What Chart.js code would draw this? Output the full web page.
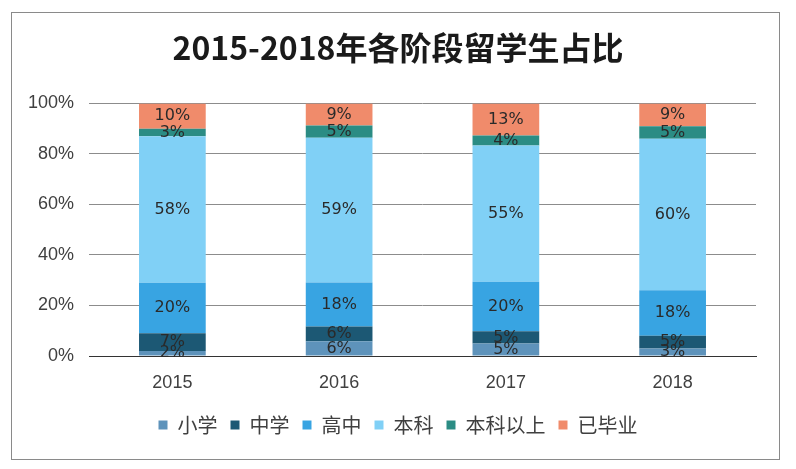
<!DOCTYPE html>
<html>
<head>
<meta charset="utf-8">
<script src="https://cdn.jsdelivr.net/npm/chart.js@4.4.0/dist/chart.umd.min.js"></script>
<style>
  html, body { margin: 0; padding: 0; background: #ffffff; }
  #wrap { width: 796px; height: 469px; position: relative; }
</style>
</head>
<body>
<div id="wrap"><canvas id="grafico" width="796" height="469"></canvas></div>
<script>
const anios = ["2015", "2016", "2017", "2018"];
const xiaoxue = [2, 6, 5, 3];
const zhongxue = [7, 6, 5, 5];
const gaozhong = [20, 18, 20, 18];
const benke = [58, 59, 55, 60];
const benkeYishang = [3, 5, 4, 5];
const yibiye = [10, 9, 13, 9];
const ticksY = ["0%", "20%", "40%", "60%", "80%", "100%"];

const series = [
  { label: "小学", values: xiaoxue, color: "#5e93bb" },
  { label: "中学", values: zhongxue, color: "#1c5874" },
  { label: "高中", values: gaozhong, color: "#38a4e2" },
  { label: "本科", values: benke, color: "#80d0f6" },
  { label: "本科以上", values: benkeYishang, color: "#2b8c84" },
  { label: "已毕业", values: yibiye, color: "#f08b6b" }
];

// 100% apilado: normalizar cada año
const totales = anios.map((_, i) => series.reduce((s, d) => s + d.values[i], 0));

const datasets = series.map(d => ({
  label: d.label,
  data: d.values.map((v, i) => v / totales[i] * 100),
  raw: d.values,
  backgroundColor: d.color,
  borderWidth: 0,
  categoryPercentage: 1,
  barPercentage: 0.4
}));

const etiquetas = {
  id: "etiquetas",
  afterDatasetsDraw(chart) {
    const ctx = chart.ctx;
    ctx.save();
    ctx.font = "16px 'DejaVu Sans', sans-serif";
    ctx.fillStyle = "#2a2a2a";
    ctx.textAlign = "center";
    ctx.textBaseline = "middle";
    chart.data.datasets.forEach((ds, di) => {
      chart.getDatasetMeta(di).data.forEach((bar, i) => {
        const y = (bar.y + bar.base) / 2;
        ctx.fillText(ds.raw[i] + "%", bar.x, y);
      });
    });
    ctx.restore();
  }
};

const marco = {
  id: "marco",
  beforeDraw(chart) {
    const ctx = chart.ctx;
    ctx.save();
    ctx.fillStyle = "#ffffff";
    ctx.fillRect(0, 0, chart.width, chart.height);
    ctx.strokeStyle = "#8a8a8a";
    ctx.lineWidth = 1;
    ctx.strokeRect(11.5, 12.5, 768, 447);
    ctx.restore();
  }
};

new Chart(document.getElementById("grafico"), {
  type: "bar",
  data: { labels: anios, datasets: datasets },
  plugins: [marco, etiquetas],
  options: {
    responsive: false,
    animation: false,
    layout: { padding: { left: 0, right: 0, top: 0, bottom: 24 } },
    plugins: {
      title: {
        display: true,
        text: "2015-2018年各阶段留学生占比",
        color: "#1a1a1a",
        font: { size: 32, weight: "bold", family: "'Noto Sans CJK SC', sans-serif" },
        padding: { top: 29, bottom: 36 }
      },
      legend: {
        position: "bottom",
        labels: {
          boxWidth: 9,
          boxHeight: 9,
          color: "#404040",
          padding: 13,
          font: { size: 20, family: "'Noto Sans CJK SC', sans-serif" }
        }
      },
      tooltip: { enabled: false }
    },
    scales: {
      x: {
        stacked: true,
        grid: { display: false },
        border: { color: "#333333", width: 1 },
        ticks: {
          color: "#404040",
          padding: 8,
          font: { size: 18, family: "'Liberation Sans', sans-serif" }
        },
        afterFit(scale) { scale.height = 46; }
      },
      y: {
        stacked: true,
        min: 0,
        max: 100,
        grid: { color: "#8c8c8c", drawTicks: false },
        border: { display: false },
        ticks: {
          stepSize: 20,
          padding: 15,
          color: "#404040",
          font: { size: 18, family: "'Liberation Sans', sans-serif" },
          callback: function(value) { return ticksY[value / 20]; }
        },
        afterFit(scale) { scale.width = 89; }
      },
      derecha: {
        position: "right",
        display: true,
        grid: { display: false, drawTicks: false },
        border: { display: false },
        ticks: { display: false },
        afterFit(scale) { scale.width = 40; }
      }
    }
  }
});
</script>
</body>
</html>
